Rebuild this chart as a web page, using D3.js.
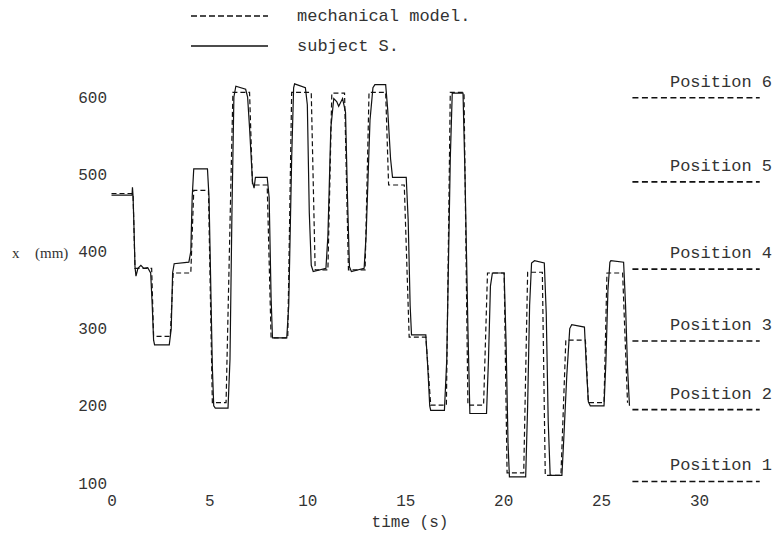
<!DOCTYPE html>
<html>
<head>
<meta charset="utf-8">
<script src="https://cdn.jsdelivr.net/npm/d3@7"></script>
<style>
  body { margin: 0; background: #fff; }
  svg text { font-family: "Liberation Mono", "Courier New", monospace; fill: #333; }
</style>
</head>
<body>
<div id="chart"></div>
<script>
// tick labels
var xTicks = [0, 5, 10, 15, 20, 25, 30];
var yTicks = [100, 200, 300, 400, 500, 600];

// target positions (mm)
var posNames = ["Position 1", "Position 2", "Position 3", "Position 4", "Position 5", "Position 6"];
var posValues = [102, 195, 284, 377, 490, 599];

// mechanical model (dashed)
var modelTime = [0, 1.1, 1.2, 2.05, 2.15, 3.0, 3.15, 4.05, 4.2, 4.95, 5.15, 5.85, 6.2, 7.05, 7.2, 7.95,
  8.15, 9.0, 9.2, 10.2, 10.4, 11.05, 11.25, 11.9, 12.1, 12.95, 13.15, 14.0, 14.15, 14.95, 15.2, 16.05,
  16.3, 17.1, 17.3, 18.0, 18.2, 19.0, 19.2, 20.05, 20.2, 21.05, 21.25, 22.0, 22.15, 22.95, 23.2, 24.2,
  24.35, 25.15, 25.3, 26.1, 26.35];
var modelPos = [475, 475, 378, 378, 290, 290, 372, 372, 479, 479, 204, 204, 606, 606, 486, 486,
  288, 288, 606, 606, 376, 376, 605, 605, 376, 376, 606, 606, 486, 486, 289, 289,
  201, 201, 606, 606, 201, 201, 372, 372, 113, 113, 373, 373, 110, 110, 285, 285,
  204, 204, 372, 372, 204];

// subject S. (solid)
var subjTime = [0, 1.05, 1.07, 1.1, 1.15, 1.2, 1.25, 1.35, 1.5, 1.65, 1.85, 2.0, 2.08, 2.15, 2.2, 2.95,
  3.05, 3.12, 3.2, 3.95, 4.05, 4.12, 4.2, 4.9, 4.98, 5.05, 5.15, 5.22, 5.3, 5.95, 6.05, 6.15, 6.25, 6.35,
  6.85, 6.95, 7.05, 7.2, 7.28, 7.35, 7.95, 8.05, 8.15, 8.22, 8.95, 9.05, 9.2, 9.3, 9.35, 9.9, 10.0, 10.1,
  10.2, 10.3, 10.95, 11.05, 11.2, 11.35, 11.5, 11.6, 11.8, 11.95, 12.05, 12.15, 12.25, 12.9, 13.0, 13.2,
  13.35, 13.45, 14.0, 14.1, 14.25, 14.35, 15.05, 15.15, 15.25, 15.32, 16.05, 16.15, 16.25, 16.3, 17.0,
  17.12, 17.3, 17.4, 17.95, 18.05, 18.2, 18.3, 19.15, 19.25, 19.35, 19.45, 20.05, 20.15, 20.25, 20.32,
  21.15, 21.25, 21.35, 21.45, 21.6, 22.1, 22.2, 22.3, 22.4, 23.0, 23.1, 23.25, 23.4, 23.5, 24.15, 24.25,
  24.35, 24.45, 25.15, 25.25, 25.35, 25.45, 25.5, 26.15, 26.25, 26.35, 26.45];
var subjPos = [473, 473, 483, 472, 430, 380, 368, 378, 382, 378, 379, 372, 330, 285, 279, 279,
  300, 372, 384, 386, 400, 470, 507, 507, 470, 380, 250, 200, 197, 197, 260, 450, 600, 614,
  610, 600, 560, 490, 482, 496, 496, 470, 340, 288, 288, 330, 520, 612, 617, 612, 590, 450,
  382, 374, 378, 420, 560, 598, 594, 588, 598, 580, 470, 380, 374, 378, 420, 570,
  612, 616, 616, 585, 520, 496, 496, 440, 330, 292, 292, 250, 200, 194, 194,
  260, 520, 605, 605, 500, 300, 190, 190, 260, 355, 372, 372, 280, 150, 108,
  108, 200, 330, 385, 388, 385, 320, 180, 110, 110, 160, 240, 300, 305, 302, 250,
  205, 200, 200, 260, 350, 386, 388, 386, 330, 250, 200];

var width = 776, height = 538;

var svg = d3.select("#chart")
  .append("svg")
    .attr("width", width)
    .attr("height", height);

var x = d3.scaleLinear().domain([0, 30]).range([111.5, 699]);
var y = d3.scaleLinear().domain([100, 600]).range([483, 97]);

// y axis labels only
var yAxis = svg.append("g")
  .attr("transform", "translate(110,0)")
  .call(d3.axisLeft(y).tickValues(yTicks).tickSize(0).tickPadding(3));
yAxis.select(".domain").remove();
yAxis.selectAll("text")
  .style("font-size", "16px")
  .style("font-family", "Liberation Mono, monospace")
  .attr("fill", "#333");

// x axis labels only
var xAxis = svg.append("g")
  .attr("transform", "translate(0,490)")
  .call(d3.axisBottom(x).tickValues(xTicks).tickSize(0).tickPadding(5));
xAxis.select(".domain").remove();
xAxis.selectAll("text")
  .style("font-size", "16px")
  .style("font-family", "Liberation Mono, monospace")
  .attr("fill", "#333");

svg.append("text")
  .attr("x", 410).attr("y", 527)
  .attr("text-anchor", "middle")
  .style("font-size", "16px")
  .text("time (s)");

// y label in serif
svg.append("text")
  .attr("x", 12).attr("y", 258)
  .style("font-family", "Liberation Serif, serif")
  .style("font-size", "15px")
  .text("x");
svg.append("text")
  .attr("x", 35).attr("y", 258)
  .style("font-family", "Liberation Serif, serif")
  .style("font-size", "15px")
  .text("(mm)");

var line = d3.line()
  .x(function(d) { return x(d[0]); })
  .y(function(d) { return y(d[1]); });

var modelData = modelTime.map(function(t, i) { return [t, modelPos[i]]; });
var subjData = subjTime.map(function(t, i) { return [t, subjPos[i]]; });

svg.append("path")
  .datum(subjData)
  .attr("d", line)
  .attr("fill", "none")
  .attr("stroke", "#111")
  .attr("stroke-width", 1.2);

svg.append("path")
  .datum(modelData)
  .attr("d", line)
  .attr("fill", "none")
  .attr("stroke", "#111")
  .attr("stroke-width", 1.2)
  .attr("stroke-dasharray", "5,3");

// target position markers on the right
var pos = svg.selectAll(".pos")
  .data(posValues)
  .enter()
  .append("g")
  .attr("class", "pos");

pos.append("line")
  .attr("x1", x(26.6))
  .attr("x2", x(33.1))
  .attr("y1", function(d) { return y(d); })
  .attr("y2", function(d) { return y(d); })
  .attr("stroke", "#111")
  .attr("stroke-width", 1.6)
  .attr("stroke-dasharray", "6,3.5");

pos.append("text")
  .attr("x", 772)
  .attr("y", function(d) { return y(d) - 11; })
  .attr("text-anchor", "end")
  .style("font-size", "17px")
  .text(function(d, i) { return posNames[i]; });

// legend
var legend = [
  { label: "mechanical model.", dash: "6,3", y: 16 },
  { label: "subject S.", dash: null, y: 46 }
];
var lg = svg.selectAll(".legend")
  .data(legend)
  .enter()
  .append("g")
  .attr("class", "legend");

lg.append("line")
  .attr("x1", 191).attr("x2", 268)
  .attr("y1", function(d) { return d.y; })
  .attr("y2", function(d) { return d.y; })
  .attr("stroke", "#111")
  .attr("stroke-width", 1.3)
  .attr("stroke-dasharray", function(d) { return d.dash; });

lg.append("text")
  .attr("x", 297)
  .attr("y", function(d) { return d.y + 5; })
  .style("font-size", "17px")
  .text(function(d) { return d.label; });
</script>
</body>
</html>
